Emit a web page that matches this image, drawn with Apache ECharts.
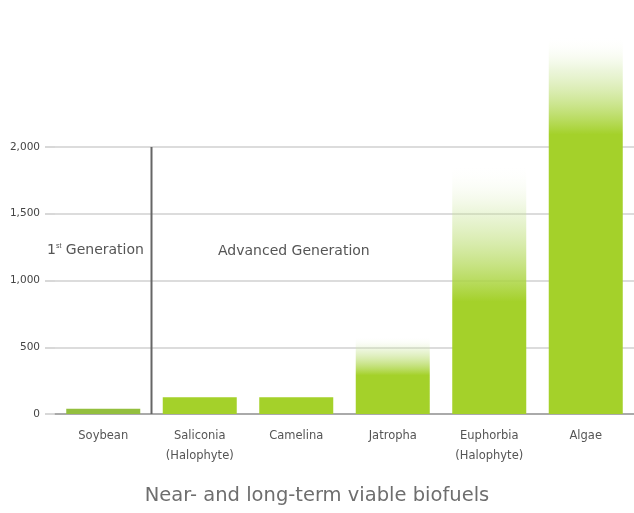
<!DOCTYPE html>
<html>
<head>
<meta charset="utf-8">
<script src="https://cdn.jsdelivr.net/npm/echarts@6/dist/echarts.min.js"></script>
<style>
  html, body { margin: 0; padding: 0; background: #fff; }
  #main { width: 634px; height: 513px; }
</style>
</head>
<body>
<div id="main"></div>
<script>
// feedstocks and their yields
var crops = ['Soybean', 'Saliconia\n(Halophyte)', 'Camelina', 'Jatropha', 'Euphorbia\n(Halophyte)', 'Algae'];
var yields = [40, 125, 125, 580, 1870, 2830];
var yTicks = [0, 500, 1000, 1500, 2000];

var chart = echarts.init(document.getElementById('main'));

// how much of each bar fades out toward the top (0 = solid)
var fade = [0, 0, 0, 0.5, 0.55, 0.26];
var green = '#a4d12a';
var font = 'DejaVu Sans';

var barData = yields.map(function (v, i) {
  var c = i === 0 ? '#93bf3e' : green;
  var f = fade[i];
  var col = f === 0 ? c : new echarts.graphic.LinearGradient(0, 0, 0, 1, [
    { offset: 0, color: 'rgba(255,255,255,0)' },
    { offset: f * 0.35, color: 'rgba(200,228,150,0.35)' },
    { offset: f, color: c },
    { offset: 1, color: c }
  ]);
  return { value: v, itemStyle: { color: col } };
});

var option = {
  backgroundColor: '#fff',
  title: {
    text: 'Near- and long-term viable biofuels',
    left: 'center',
    bottom: 2,
    textStyle: { color: '#6e6e6e', fontSize: 19.5, fontWeight: 'normal', fontFamily: font }
  },
  grid: { left: 55, right: 0, top: 147, bottom: 99 },
  xAxis: {
    type: 'category',
    data: crops,
    axisLine: { lineStyle: { color: '#999', width: 1.5 } },
    axisTick: { show: false },
    axisLabel: {
      color: '#555', fontSize: 11.5, lineHeight: 20, margin: 12,
      fontFamily: font
    }
  },
  yAxis: {
    type: 'value',
    min: yTicks[0],
    max: yTicks[yTicks.length - 1],
    interval: 500,
    axisLine: { show: false },
    axisTick: { show: true, length: 10, lineStyle: { color: '#ccc', width: 1.5 } },
    axisLabel: {
      color: '#444', fontSize: 10.5, margin: 15, fontFamily: font,
      formatter: function (v) { return v.toLocaleString('en-US'); }
    },
    splitLine: { lineStyle: { color: '#d0d0d0', width: 1.5 } }
  },
  series: [{
    type: 'bar',
    data: barData,
    barWidth: 74,
    clip: false,
    z: 3
  }]
};
chart.setOption(option);

// divider between 1st and advanced generation, at the band boundary
var p0 = chart.convertToPixel({ gridIndex: 0 }, [0, yTicks[yTicks.length - 1]]);
var p1 = chart.convertToPixel({ gridIndex: 0 }, [1, 0]);
var xDiv = (p0[0] + p1[0]) / 2;
chart.setOption({
  graphic: [
    {
      type: 'line', z: 5,
      shape: { x1: xDiv, y1: p0[1], x2: xDiv, y2: p1[1] },
      style: { stroke: '#666', lineWidth: 2 }
    },
    {
      type: 'text', left: 47, top: 243,
      style: {
        text: '1{s|st} Generation',
        fill: '#555', fontSize: 14, fontFamily: font,
        rich: { s: { fontSize: 7, verticalAlign: 'top', fill: '#555', padding: [0, 0, 7, 0] } }
      }
    },
    {
      type: 'text', left: 218, top: 244,
      style: { text: 'Advanced Generation', fill: '#555', fontSize: 14, fontFamily: font }
    }
  ]
});
</script>
</body>
</html>
